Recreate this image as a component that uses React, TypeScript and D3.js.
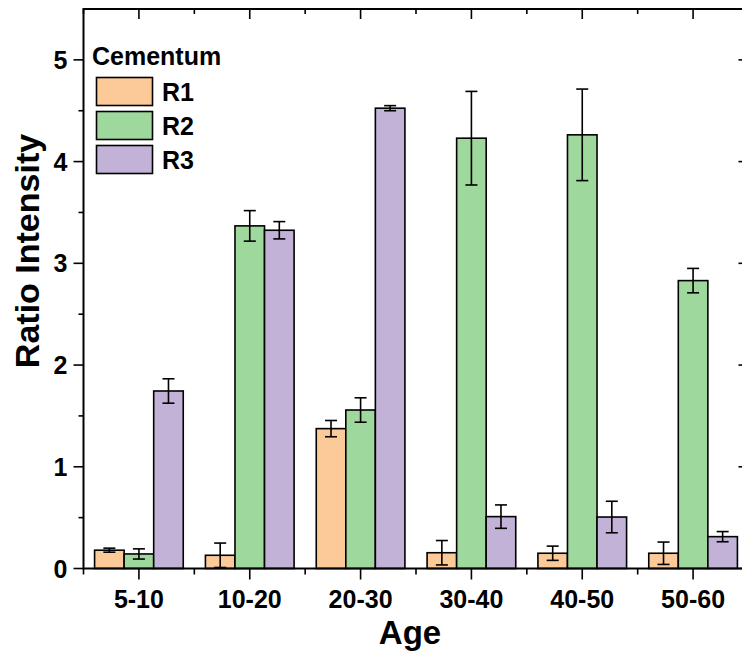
import React from "react";
import * as d3 from "d3";

const categories = ["5-10", "10-20", "20-30", "30-40", "40-50", "50-60"];
const seriesNames = ["R1", "R2", "R3"];
const r1Values = [0.18, 0.13, 1.375, 0.155, 0.15, 0.15];
const r1Errors = [0.02, 0.12, 0.08, 0.12, 0.07, 0.11];
const r2Values = [0.143, 3.368, 1.558, 4.23, 4.263, 2.83];
const r2Errors = [0.05, 0.15, 0.12, 0.46, 0.45, 0.12];
const r3Values = [1.745, 3.325, 4.525, 0.51, 0.506, 0.313];
const r3Errors = [0.12, 0.085, 0.025, 0.115, 0.155, 0.05];
const yTicks = [0, 1, 2, 3, 4, 5];
const yMinorTicks = [0.5, 1.5, 2.5, 3.5, 4.5];
const colors = ["#FCC998", "#9FD89C", "#C2B2D7"];

const W = 742;
const H = 653;
const left = 83.5;
const right = 748.5;
const top = 9;
const bottom = 568.5;
const FONT = "'Liberation Sans', Arial, sans-serif";

export default function App() {
  const x0 = d3.scaleBand<string>().domain(categories).range([left, right]).padding(0);
  const bw = x0.bandwidth();
  const x1 = d3.scaleBand<string>().domain(seriesNames).range([bw * 0.1, bw * 0.9]).padding(0);
  const y = d3.scaleLinear().domain([0, 5.5]).range([bottom, top]);

  const values = [r1Values, r2Values, r3Values];
  const errors = [r1Errors, r2Errors, r3Errors];
  const majorLen = 10;
  const minorLen = 5;
  const capHalf = 6;

  const bars: React.ReactNode[] = [];
  const errs: React.ReactNode[] = [];
  categories.forEach((c, ci) => {
    seriesNames.forEach((s, si) => {
      const v = values[si][ci];
      const e = errors[si][ci];
      const bx = (x0(c) as number) + (x1(s) as number);
      const w = x1.bandwidth();
      bars.push(
        <rect key={`b${ci}-${si}`} x={bx} y={y(v)} width={w} height={y(0) - y(v)}
          fill={colors[si]} stroke="#000" strokeWidth={1.6} />
      );
      const cx = bx + w / 2;
      errs.push(
        <g key={`e${ci}-${si}`} stroke="#000" strokeWidth={1.6}>
          <line x1={cx} x2={cx} y1={y(v + e)} y2={y(Math.max(0, v - e))} />
          <line x1={cx - capHalf} x2={cx + capHalf} y1={y(v + e)} y2={y(v + e)} />
          <line x1={cx - capHalf} x2={cx + capHalf} y1={y(Math.max(0, v - e))} y2={y(Math.max(0, v - e))} />
        </g>
      );
    });
  });

  const catCenters = categories.map((c) => (x0(c) as number) + bw / 2);
  const catBounds = categories.map((c) => x0(c) as number).concat([right]);

  return (
    <svg width={W} height={H} style={{ position: "absolute", left: 0, top: 0, overflow: "hidden" }}
      fontFamily={FONT}>
      <rect x={0} y={0} width={W} height={H} fill="#fff" />
      {bars}
      {errs}
      {/* frame */}
      <rect x={left} y={top} width={right - left} height={bottom - top} fill="none" stroke="#000" strokeWidth={2} />
      {/* left ticks */}
      {yTicks.map((t) => (
        <g key={`yl${t}`}>
          <line x1={left - majorLen} x2={left} y1={y(t)} y2={y(t)} stroke="#000" strokeWidth={1.6} />
          <text x={left - 16} y={y(t)} dy="0.36em" textAnchor="end" fontSize={25} fontWeight="bold">{t}</text>
          <line x1={right - majorLen} x2={right} y1={y(t)} y2={y(t)} stroke="#000" strokeWidth={1.6} />
        </g>
      ))}
      {yMinorTicks.map((t) => (
        <g key={`ym${t}`}>
          <line x1={left - minorLen} x2={left} y1={y(t)} y2={y(t)} stroke="#000" strokeWidth={1.6} />
          <line x1={right - minorLen} x2={right} y1={y(t)} y2={y(t)} stroke="#000" strokeWidth={1.6} />
        </g>
      ))}
      {/* x ticks */}
      {catCenters.map((cx, i) => (
        <g key={`xc${i}`}>
          <line x1={cx} x2={cx} y1={bottom} y2={bottom + majorLen + 1} stroke="#000" strokeWidth={1.6} />
          <line x1={cx} x2={cx} y1={top} y2={top + majorLen} stroke="#000" strokeWidth={1.6} />
          <text x={cx} y={608} textAnchor="middle" fontSize={25} fontWeight="bold">{categories[i]}</text>
        </g>
      ))}
      {catBounds.map((bx, i) => (
        <g key={`xb${i}`}>
          <line x1={bx} x2={bx} y1={bottom} y2={bottom + minorLen + 1} stroke="#000" strokeWidth={1.6} />
          <line x1={bx} x2={bx} y1={top} y2={top + minorLen} stroke="#000" strokeWidth={1.6} />
        </g>
      ))}
      {/* axis titles */}
      <text x={410} y={644} textAnchor="middle" fontSize={33} fontWeight="bold">Age</text>
      <text transform={`translate(39, 251) rotate(-90)`} textAnchor="middle" fontSize={34} fontWeight="bold">Ratio Intensity</text>
      {/* legend */}
      <text x={92} y={65} fontSize={25} fontWeight="bold">Cementum</text>
      {seriesNames.map((s, i) => (
        <g key={`lg${s}`}>
          <rect x={96.5} y={77.5 + i * 34} width={56} height={28} fill={colors[i]} stroke="#000" strokeWidth={1.6} />
          <text x={162} y={91.5 + i * 34} dy="0.36em" fontSize={25} fontWeight="bold">{s}</text>
        </g>
      ))}
    </svg>
  );
}
